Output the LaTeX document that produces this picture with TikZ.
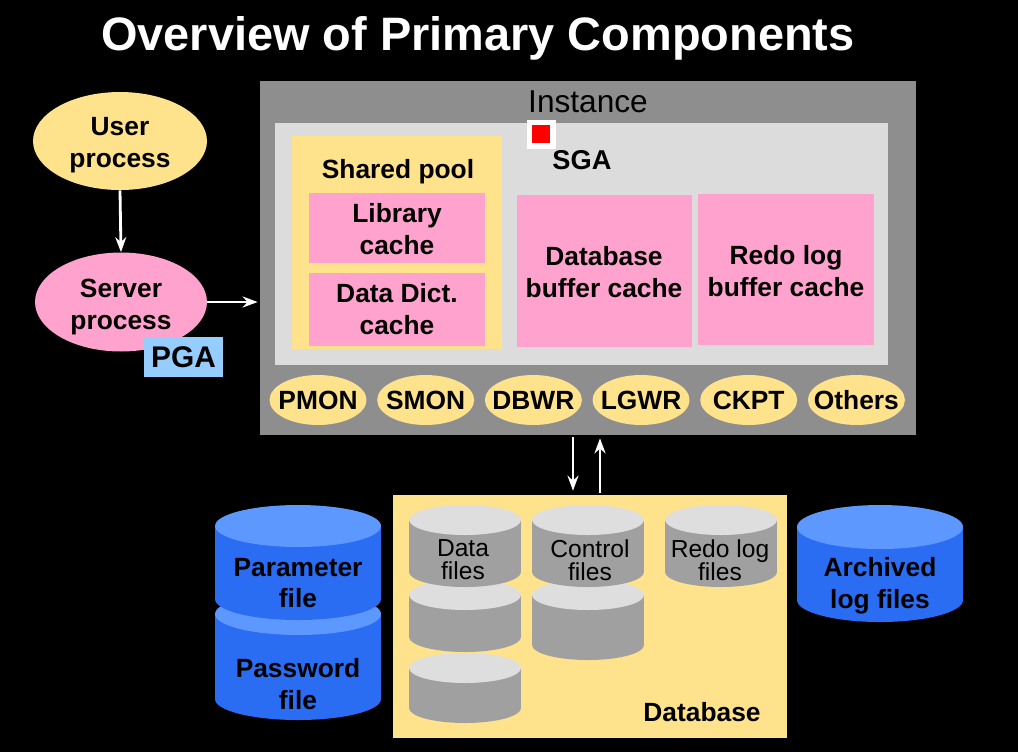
\documentclass[tikz,border=0pt]{standalone}
\usepackage{fontspec}
\setmainfont{Liberation Sans}
\usetikzlibrary{arrows.meta,fit,shapes.geometric,positioning}
\definecolor{InstGray}{RGB}{142,142,142}
\definecolor{SgaGray}{RGB}{220,220,220}
\definecolor{PoolYellow}{RGB}{255,226,140}
\definecolor{CachePink}{RGB}{255,162,206}
\definecolor{PgaBlue}{RGB}{150,205,255}
\definecolor{FileBlue}{RGB}{42,108,242}
\definecolor{FileBlueTop}{RGB}{92,152,255}
\definecolor{FileGray}{RGB}{160,160,160}
\definecolor{FileGrayTop}{RGB}{222,222,222}
\newcommand{\lbl}{\fontsize{15}{18}\selectfont\bfseries}
\newcommand{\cyllbl}{\fontsize{14}{13.2}\selectfont}
% x, top y, bottom y, half width, y radius, colour prefix
\newcommand{\filecyl}[6]{%
  \fill[#6] (#1-#4,#2) rectangle (#1+#4,#3);
  \fill[#6] (#1,#3) ellipse [x radius=#4,y radius=#5];
  \fill[#6Top] (#1,#2) ellipse [x radius=#4,y radius=#5];}

\begin{document}
\begin{tikzpicture}[x=0.02cm,y=-0.02cm,
  area/.style={inner sep=0pt},
  txt/.style={align=center,font=\lbl},
  proc/.style={ellipse,fill=PoolYellow,inner sep=0pt,minimum width=1.94cm,minimum height=1.0cm},
  cyltext/.style={align=center,font=\cyllbl},
  arr/.style={-{Stealth[length=3mm,width=2.2mm]},line width=1.6pt,white}
]
  \fill[black] (0,0) rectangle (1018,752);
  \useasboundingbox (0,0) rectangle (1018,752);

  \node[text=white,font=\fontsize{26.7}{30}\selectfont\bfseries] (title) at (478,38) {Overview of Primary Components};

  \node[ellipse,fill=PoolYellow,inner sep=0pt,minimum width=3.48cm,minimum height=1.96cm] (user) at (120,141) {};
  \node[txt] (usertxt) at (120,145) {User\\process};
  \node[ellipse,fill=CachePink,inner sep=0pt,minimum width=3.44cm,minimum height=1.98cm] (server) at (121,302) {};
  \node[txt] (servertxt) at (121,307) {Server\\process};
  \node[area,fill=PgaBlue,fit={(144,337) (223,377)}] (pga) {};
  \node[font=\fontsize{17}{20}\selectfont\bfseries] (pgatxt) at (pga) {PGA};

  \node[area,fill=InstGray,fit={(260,81) (916,435)}] (instance) {};
  \node[font=\fontsize{18}{20}\selectfont] (insttxt) at (588,102) {Instance};
  \node[area,fill=SgaGray,fit={(275,123) (888,365)}] (sga) {};
  \node[area,fill=white,minimum size=0.58cm] (mark) at (541,134) {};
  \node[area,fill=red,minimum size=0.36cm] (markin) at (mark) {};
  \node[font=\fontsize{15.5}{18}\selectfont\bfseries] (sgatxt) at (582,160) {SGA};

  \node[area,fill=PoolYellow,fit={(292,136) (502,349)}] (pool) {};
  \node[txt] (pooltxt) at (398,172) {Shared pool};
  \node[area,fill=CachePink,fit={(309,193) (485,263)}] (libcache) {};
  \node[txt] (libtxt) at (397,229) {Library\\cache};
  \node[area,fill=CachePink,fit={(309,273) (485,346)}] (dictcache) {};
  \node[txt] (dicttxt) at (397,309) {Data Dict.\\cache};
  \node[area,fill=CachePink,fit={(517,195) (692,347)}] (bufcache) {};
  \node[txt] (buftxt) at (604,272) {Database\\buffer cache};
  \node[area,fill=CachePink,fit={(698,194) (874,345)}] (redocache) {};
  \node[txt] (redotxt) at (786,271) {Redo log\\buffer cache};

  \node[proc] (pmon) at (318,400) {};
  \node[proc,right=0.20cm of pmon] (smon) {};
  \node[proc,right=0.20cm of smon] (dbwr) {};
  \node[proc,right=0.20cm of dbwr] (lgwr) {};
  \node[proc,right=0.20cm of lgwr] (ckpt) {};
  \node[proc,right=0.20cm of ckpt] (others) {};
  \node[txt] at (pmon) {PMON};
  \node[txt] at (smon) {SMON};
  \node[txt] at (dbwr) {DBWR};
  \node[txt] at (lgwr) {LGWR};
  \node[txt] at (ckpt) {CKPT};
  \node[txt] at (others) {Others};

  \node[area,fill=PoolYellow,fit={(393,495) (787,738)}] (db) {};
  \node[txt] (dbtxt) at (702,712) {Database};

  \filecyl{465}{668}{708}{56}{15}{FileGray}
  \filecyl{465}{595}{637}{56}{15}{FileGray}
  \filecyl{465}{520}{572}{56}{15}{FileGray}
  \filecyl{588}{595}{645}{56}{15}{FileGray}
  \filecyl{588}{520}{572}{56}{15}{FileGray}
  \filecyl{721}{520}{572}{56}{15}{FileGray}
  \node[cyltext] (datafiles) at (463,560) {Data\\files};
  \node[cyltext] (ctlfiles) at (590,560) {Control\\files};
  \node[cyltext] (redofiles) at (720,560) {Redo log\\files};

  \filecyl{298}{614}{699}{83}{21}{FileBlue}
  \filecyl{298}{526}{599}{83}{21}{FileBlue}
  \filecyl{880}{527}{600}{83}{22}{FileBlue}
  \node[txt] (paramfile) at (298,583) {Parameter\\file};
  \node[txt] (pwfile) at (298,684) {Password\\file};
  \node[txt] (archfiles) at (880,586) {Archived\\log files};

  \coordinate (down) at (573,0);
  \coordinate (up) at (600,0);
  \draw[arr] (user.south) -- (server.north);
  \draw[arr] (server.east) -- ([xshift=-0.04cm]instance.west |- server.east);
  \draw[arr] ([yshift=-0.04cm]instance.south -| down) -- ([yshift=0.08cm]db.north -| down);
  \draw[arr] ([yshift=0.04cm]db.north -| up) -- ([yshift=-0.06cm]instance.south -| up);
\end{tikzpicture}
\end{document}
